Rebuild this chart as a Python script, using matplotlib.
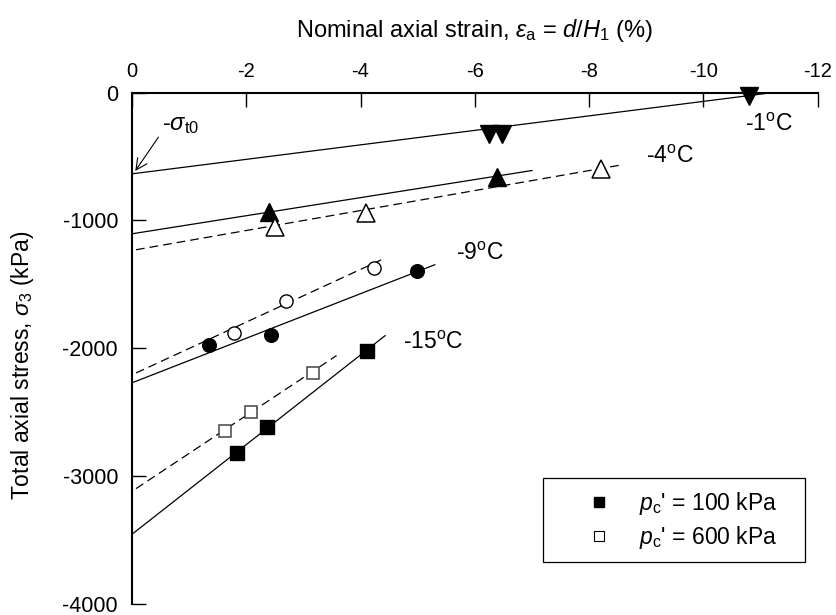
import numpy as np
import matplotlib
matplotlib.use('Agg')
import matplotlib.pyplot as plt
from matplotlib.lines import Line2D

plt.rcParams['font.family'] = ['Liberation Sans', 'DejaVu Sans']
plt.rcParams['mathtext.fontset'] = 'custom'
plt.rcParams['mathtext.rm'] = 'Liberation Sans'
plt.rcParams['mathtext.it'] = 'Liberation Sans:italic'
plt.rcParams['mathtext.bf'] = 'Liberation Sans:bold'
plt.rcParams['axes.unicode_minus'] = False
plt.rcParams['font.size'] = 15

# -1 C (only pc'=100 kPa)
x_m1 = [-10.8, -6.24, -6.47]
y_m1 = [-26, -320, -320]
line_m1_x = [0, -11.2]
line_m1_y = [-635, 0]

# -4 C
x_m4_100 = [-2.40, -6.39]
y_m4_100 = [-930, -656]
x_m4_600 = [-2.50, -4.09, -8.20]
y_m4_600 = [-1052, -942, -598]
line_m4_100_x = [0, -7.0]
line_m4_100_y = [-1104, -609]
line_m4_600_x = [-0.07, -8.57]
line_m4_600_y = [-1229, -565]

# -9 C
x_m9_100 = [-1.34, -2.43, -4.98]
y_m9_100 = [-1971, -1893, -1393]
x_m9_600 = [-1.79, -2.69, -4.24]
y_m9_600 = [-1880, -1633, -1372]
line_m9_100_x = [0, -5.30]
line_m9_100_y = [-2270, -1346]
line_m9_600_x = [-0.07, -4.43]
line_m9_600_y = [-2193, -1294]

# -15 C
x_m15_100 = [-1.83, -2.37, -4.11]
y_m15_100 = [-2818, -2617, -2018]
x_m15_600 = [-1.63, -2.08, -3.17]
y_m15_600 = [-2648, -2497, -2192]
line_m15_100_x = [0, -4.43]
line_m15_100_y = [-3455, -1901]
line_m15_600_x = [-0.07, -3.58]
line_m15_600_y = [-3098, -2057]

xticks = [0, -2, -4, -6, -8, -10, -12]
yticks = [0, -1000, -2000, -3000, -4000]

fig = plt.figure(figsize=(8.37, 6.15), dpi=100)
ax = fig.add_axes([0.1577, 0.0180, 0.8192, 0.8313])

lw = 0.9
dash = (0, (7, 4))
ax.plot(line_m1_x, line_m1_y, color='black', lw=lw)
ax.plot(line_m4_100_x, line_m4_100_y, color='black', lw=lw)
ax.plot(line_m4_600_x, line_m4_600_y, color='black', lw=lw, linestyle=dash)
ax.plot(line_m9_100_x, line_m9_100_y, color='black', lw=lw)
ax.plot(line_m9_600_x, line_m9_600_y, color='black', lw=lw, linestyle=dash)
ax.plot(line_m15_100_x, line_m15_100_y, color='black', lw=lw)
ax.plot(line_m15_600_x, line_m15_600_y, color='black', lw=lw, linestyle=dash)

ax.plot(x_m1, y_m1, 'v', color='black', ms=13, clip_on=False)
ax.plot(x_m4_100, y_m4_100, '^', color='black', ms=13.5)
ax.plot(x_m4_600, y_m4_600, '^', mfc='white', mec='black', mew=1.1, ms=13)
ax.plot(x_m9_100, y_m9_100, 'o', color='black', ms=9.8)
ax.plot(x_m9_600, y_m9_600, 'o', mfc='white', mec='black', mew=1.0, ms=9.5)
ax.plot(x_m15_100, y_m15_100, 's', color='black', ms=9.6)
ax.plot(x_m15_600, y_m15_600, 's', mfc='white', mec='#444444', mew=1.1, ms=9.2)

tfs = 16.5
ax.text(-10.73, -250, r'-1$^{\rm o}$C', ha='left', va='center', fontsize=tfs)
ax.text(-8.99, -500, r'-4$^{\rm o}$C', ha='left', va='center', fontsize=tfs)
ax.text(-5.67, -1260, r'-9$^{\rm o}$C', ha='left', va='center', fontsize=tfs)
ax.text(-4.74, -1955, r'-15$^{\rm o}$C', ha='left', va='center', fontsize=tfs)

ax.annotate('', xy=(-0.03, -630), xytext=(-0.49, -330),
            arrowprops=dict(arrowstyle='->', color='black', lw=0.8,
                            mutation_scale=20))
ax.text(-0.52, -250, r'-$\sigma_{\rm t0}$', ha='left', va='center', fontsize=17)

ax.set_xlim(0, -12)
ax.set_ylim(-4000, 0)
ax.set_xticks(xticks)
ax.set_xticklabels(['0', '-2', '-4', '-6', '-8', '-10', '-12'])
ax.set_yticks(yticks)
ax.xaxis.tick_top()
ax.xaxis.set_label_position('top')
ax.tick_params(axis='x', direction='in', length=10, width=1, pad=8.3, labelsize=14.5)
ax.tick_params(axis='y', direction='in', length=10, width=1, pad=10, labelsize=15.5)
ax.spines['right'].set_visible(False)
ax.spines['bottom'].set_visible(False)
ax.spines['top'].set_linewidth(1.5)
ax.spines['left'].set_linewidth(1.5)

ax.set_xlabel(r'Nominal axial strain, $\varepsilon_{\rm a}$ = $d$/$H_{\rm 1}$ (%)', labelpad=18, fontsize=17)
ax.set_ylabel(r'Total axial stress, $\sigma_{\rm 3}$ (kPa)', fontsize=16.5)
ax.yaxis.set_label_coords(-0.14, 0.466)

handles = [Line2D([], [], marker='s', color='black', linestyle='none', ms=7),
           Line2D([], [], marker='s', mfc='white', mec='black', mew=0.8, linestyle='none', ms=7)]
labels = [r"$p_{\rm c}$' = 100 kPa", r"$p_{\rm c}$' = 600 kPa"]
leg = ax.legend(handles, labels, loc='upper left', bbox_to_anchor=(0.5994, 0.0, 0.3821, 0.2455),
                mode='expand', borderaxespad=0,
                frameon=True, fancybox=False, edgecolor='black', framealpha=1,
                handletextpad=-0.22, borderpad=0.5, labelspacing=0.3, handlelength=3.9,
                fontsize=16.5)
leg.get_frame().set_linewidth(0.9)

fig.savefig('out.png', dpi=100)
